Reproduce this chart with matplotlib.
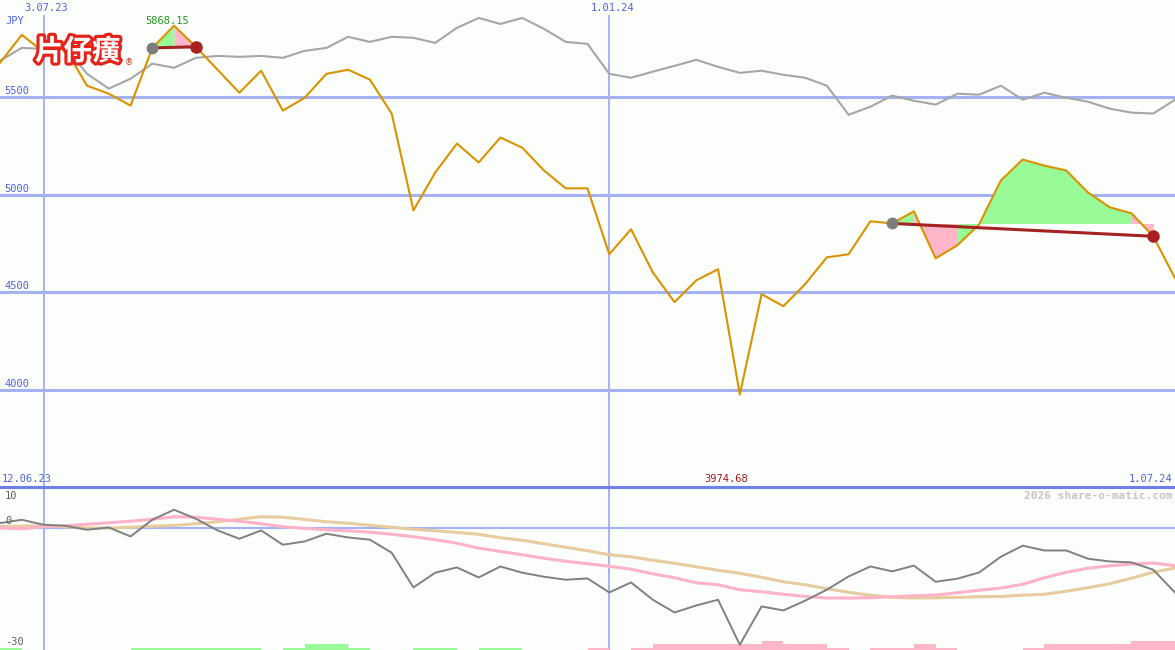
import matplotlib
matplotlib.use('Agg')
import matplotlib.pyplot as plt
import matplotlib.patheffects as pe
from matplotlib.transforms import offset_copy
from itertools import groupby
import numpy as np
import pandas as pd

# weekly closes, 19.06.23 .. 1.07.24
dates = pd.date_range('2023-06-19', periods=55, freq='7D')

price = [5678, 5821, 5734, 5749, 5560, 5519, 5458, 5754, 5868.15, 5760,
         5642, 5524, 5637, 5432, 5498, 5621, 5642, 5591, 5417, 4920,
         5114, 5263, 5166, 5294, 5242, 5125, 5033, 5033, 4695, 4823,
         4602, 4449, 4561, 4618, 3974.68, 4490, 4428, 4541, 4679, 4695,
         4864, 4853, 4915, 4674, 4741, 4848, 5074, 5181, 5150, 5125,
         5012, 4936, 4905, 4787, 4572]

# comparison index, rescaled onto the price axis
compare = [5688, 5754, 5749, 5760, 5621, 5545, 5596, 5673, 5652, 5703,
           5713, 5708, 5713, 5703, 5739, 5754, 5811, 5785, 5811, 5806,
           5780, 5857, 5908, 5877, 5908, 5852, 5785, 5775, 5621, 5601,
           5632, 5662, 5693, 5657, 5626, 5637, 5616, 5601, 5560, 5411,
           5452, 5509, 5483, 5463, 5519, 5514, 5560, 5488, 5524, 5498,
           5478, 5442, 5422, 5417, 5488]

# lower panel
momentum = [1.15, 1.96, 0.74, 0.49, -0.49, 0.07, -2.13, 1.96, 4.42, 2.21,
            -0.66, -2.70, -0.66, -4.17, -3.36, -1.47, -2.38, -2.94, -6.13, -14.65,
            -11.04, -9.74, -12.20, -9.50, -11.04, -12.02, -12.76, -12.44, -15.88, -13.42,
            -17.67, -20.79, -19.07, -17.67, -28.71, -19.31, -20.29, -17.9, -15.2, -11.95,
            -9.5, -10.7, -9.3, -13.25, -12.5, -10.97, -7.1, -4.4, -5.57, -5.57,
            -7.6, -8.27, -8.5, -10.3, -15.9]
avg_fast = [-0.07, -0.25, 0.25, 0.49, 0.86, 1.23, 1.60, 2.09, 2.70, 2.58,
            2.09, 1.60, 0.98, 0.25, -0.17, -0.49, -0.74, -1.10, -1.60, -2.21,
            -2.94, -3.80, -5.0, -5.82, -6.63, -7.48, -8.22, -8.83, -9.45, -10.18,
            -11.29, -12.27, -13.5, -13.99, -15.21, -15.71, -16.32, -16.86, -17.25, -17.25,
            -17.18, -16.93, -16.69, -16.52, -15.95, -15.34, -14.80, -13.87, -12.27, -10.92,
            -9.94, -9.33, -8.91, -8.66, -9.33]
avg_slow = [0.32, 0.42, 0.49, 0.25, -0.07, -0.07, 0.12, 0.37, 0.56, 0.98,
            1.47, 2.09, 2.70, 2.58, 2.04, 1.47, 1.10, 0.61, 0.12, -0.37,
            -0.74, -1.15, -1.60, -2.45, -3.07, -3.93, -4.79, -5.64, -6.63, -7.12,
            -7.98, -8.71, -9.57, -10.43, -11.17, -12.15, -13.25, -13.99, -14.97, -15.83,
            -16.56, -17.06, -17.25, -17.18, -17.10, -16.93, -16.86, -16.56, -16.32, -15.58,
            -14.72, -13.74, -12.39, -10.92, -9.89]
signal = [0.6, 0, 0, 0, 0, 0, 0.6, 0.6, 0.6, 0.6,
          0.6, 0.6, 0, 0.6, 1.5, 1.5, 0.6, 0, 0, 0.6,
          0.6, 0, 0.6, 0.6, 0, 0, 0, -0.6, 0, -0.6,
          -1.5, -1.5, -1.5, -1.5, -1.5, -2.2, -1.5, -1.5, -0.6, 0,
          -0.6, -0.6, -1.5, -0.6, 0, 0, 0, -0.6, -1.5, -1.5,
          -1.5, -1.5, -2.2, -2.2, 0]

grid_prices = [4000, 4500, 5000, 5500]
date_lines = ['2023-07-03', '2024-01-01']
date_labels = ['3.07.23', '1.01.24']

# trend windows: start index, end index, colour per weekly segment
trends = [(7, 9, ['up', 'down']),
          (41, 53, ['up', 'down', 'down'] + ['up'] * 8 + ['down'])]

W, H = 1175, 650
bg = '#fbfefb'
grid_col = '#a4b2f2'
lab_col = '#5062e4'
fill_col = {'up': '#98fb98', 'down': '#ffb6c8'}
mono = 'DejaVu Sans Mono'

fig = plt.figure(figsize=(W / 100, H / 100), dpi=100, facecolor=bg)
ax = fig.add_axes([0, 163 / H, 1, 487 / H])
ax2 = fig.add_axes([0, 0, 1, 163 / H])
for a in (ax, ax2):
    a.set_facecolor(bg)
    for s in a.spines.values():
        s.set_visible(False)
    a.set_xticks([])
    a.set_yticks([])
    a.set_xlim(dates[0], dates[-1])

ax.set_ylim(3500, 6000)
ax2.set_ylim(-30, 10)

def fpx(x, y):
    return x / W, 1 - y / H

# grid
for v in grid_prices:
    ax.axhline(v, color=grid_col, lw=2.2, zorder=1)
    t = offset_copy(ax.get_yaxis_transform(), fig, x=0, y=1, units='dots')
    ax.text(0.004, v, str(v), transform=t, va='bottom', ha='left',
            fontsize=7.5, family=mono, color=lab_col)
for d, lab in zip(date_lines, date_labels):
    d = pd.Timestamp(d)
    ax.axvline(d, ymin=0, ymax=1 - 16 / 487, color=grid_col, lw=1.4, zorder=1)
    ax2.axvline(d, color=grid_col, lw=1.4, zorder=1)
    t = offset_copy(ax.get_xaxis_transform(), fig, x=3, y=0, units='dots')
    ax.text(d, 1 - 3 / 487, lab, transform=t, ha='center', va='top',
            fontsize=7.5, family=mono, color=lab_col)
ax2.axhline(0, color=grid_col, lw=1.5, zorder=1)
ax2.axhline(10, color='#6f7fe8', lw=2.2, zorder=5, clip_on=False)

# price panel
ax.plot(dates, compare, color='#a6a6a6', lw=1.5, zorder=3)
for start, end, cols in trends:
    level = price[start]
    i = start
    # one polygon per run of equal colour, so no seams between weeks
    for c, run in groupby(cols):
        n = len(list(run))
        ax.fill_between(dates[i:i + n + 1], price[i:i + n + 1], level,
                        color=fill_col[c], lw=0, zorder=2)
        i += n
ax.plot(dates, price, color='#d99200', lw=1.5, zorder=4)
for start, end, cols in trends:
    ax.plot([dates[start], dates[end]], [price[start], price[end]],
            color='#a52222', lw=2.2, zorder=5)
    ax.plot(dates[start], price[start], 'o', color='#7c7c7c', ms=7.5, zorder=6)
    ax.plot(dates[end], price[end], 'o', color='#a82020', ms=8, zorder=6)

imax = int(np.argmax(price))
imin = int(np.argmin(price))
ax.text(dates[imax], 1 - 21 / 487, f'{price[imax]:.2f}',
        transform=offset_copy(ax.get_xaxis_transform(), fig, x=-7, y=0, units='dots'),
        ha='center', va='center', fontsize=7.5, family=mono, color='#1c9c1c')
ax.text(dates[imin], 1 - 479 / 487, f'{price[imin]:.2f}',
        transform=offset_copy(ax.get_xaxis_transform(), fig, x=-14, y=0, units='dots'),
        ha='center', va='center', fontsize=7.5, family=mono, color='#a01c1c')

fig.text(*fpx(5, 21), 'JPY', ha='left', va='center', fontsize=7.5, family=mono, color=lab_col)
fig.text(*fpx(2, 479), '12.06.23', ha='left', va='center', fontsize=7.5, family=mono, color=lab_col)
fig.text(*fpx(1172, 479), '1.07.24', ha='right', va='center', fontsize=7.5, family=mono, color=lab_col)

# logo
fig.text(*fpx(35, 52), '片仔癀', ha='left', va='center', fontsize=20.5,
         family=['Noto Sans CJK SC', 'DejaVu Sans'], weight='heavy', color='white',
         path_effects=[pe.Stroke(linewidth=4.5, foreground='#e4231a'), pe.Normal()])
fig.text(*fpx(125, 63), '®', ha='left', va='center', fontsize=6, color='#e4231a')

# lower panel
ax2.bar(dates, [abs(s) for s in signal], bottom=-30, width=7, align='edge',
        color=[fill_col['up'] if s > 0 else fill_col['down'] for s in signal],
        lw=0, zorder=2)
ax2.plot(dates, avg_slow, color='#e6cc9e', lw=2.2, zorder=3)
ax2.plot(dates, avg_fast, color='#ffb2c8', lw=2.2, zorder=3)
ax2.plot(dates, momentum, color='#808080', lw=1.4, zorder=4)

fig.text(*fpx(5, 496), '10', ha='left', va='center', fontsize=7.5, family=mono, color='#606060')
fig.text(*fpx(5, 521), '0', ha='left', va='center', fontsize=7.5, family=mono, color='#606060')
fig.text(*fpx(5, 642), '-30', ha='left', va='center', fontsize=7.5, family=mono, color='#606060')
fig.text(*fpx(1172, 496), '2026 share-o-matic.com', ha='right', va='center',
         fontsize=8, family=mono, weight='bold', color='#c6c6c6')

fig.savefig('out.png', dpi=100, facecolor=bg)
